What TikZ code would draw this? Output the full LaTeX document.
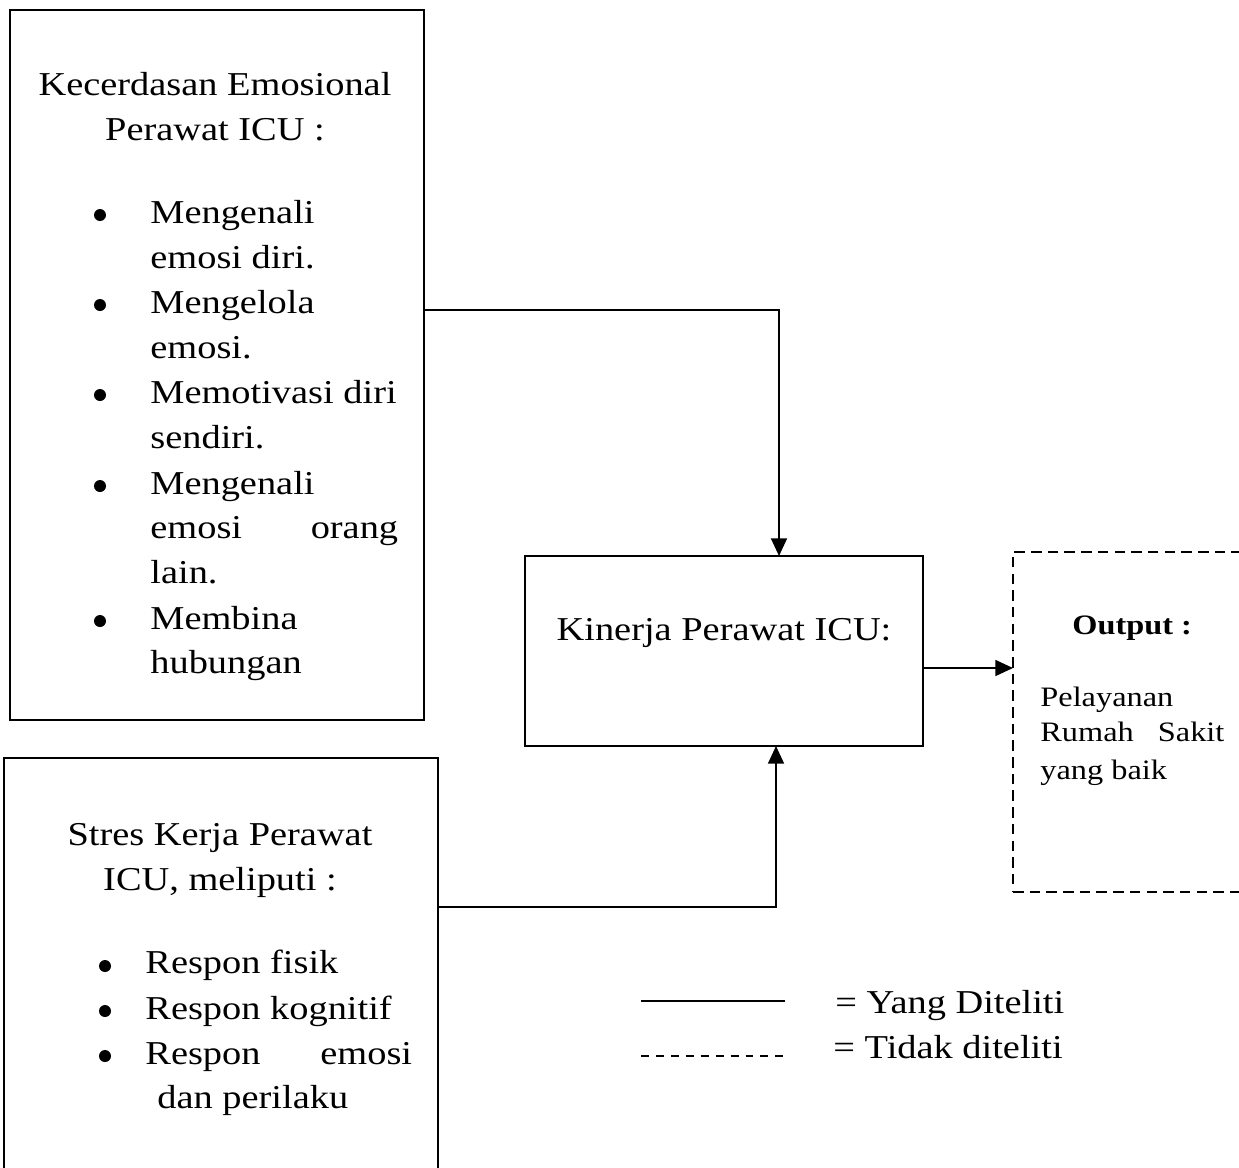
\documentclass[tikz,border=0pt]{standalone}
\usepackage{fontspec}
\setmainfont{Liberation Serif}
\usetikzlibrary{arrows.meta,calc}
\newcommand\fsA{\fontsize{19}{22}\selectfont}
\newcommand\fsB{\fontsize{16}{19}\selectfont}
\begin{document}
\begin{tikzpicture}[x=0.02cm,y=-0.02cm,
  box/.style={draw,line width=1.3pt,outer sep=0pt,inner sep=0pt,anchor=north west},
  dbox/.style={draw,line width=1.1pt,dash pattern=on 6pt off 3.5pt,outer sep=0pt,inner sep=0pt,anchor=north west},
  conn/.style={line width=1.1pt,-{Triangle[width=9pt,length=10pt]}},
  txt/.style={font=\fsA,xscale=1.15,inner sep=0pt,anchor=base west},
  ctxt/.style={font=\fsA,xscale=1.15,inner sep=0pt,anchor=base},
  stxt/.style={font=\fsB,xscale=1.15,inner sep=0pt,anchor=base west},
  bul/.style={circle,fill,inner sep=0pt,minimum size=0.24cm}]
\useasboundingbox (0,0) rectangle (1239,1167);
\clip (0,0) rectangle (1239,1167);
% boxes
\node[box,minimum width=8.28cm,minimum height=14.2cm] (b1) at (10,10) {};
\node[box,minimum width=8.68cm,minimum height=8.84cm] (b2) at (4,758) {};
\node[box,minimum width=7.96cm,minimum height=3.8cm] (b3) at (525,556) {};
\node[dbox,minimum width=5.4cm,minimum height=6.8cm] (b4) at (1013,552) {};
% box 1 text
\node[ctxt] (t1a) at (215,95) {Kecerdasan Emosional};
\node[ctxt] (t1b) at (215,140) {Perawat ICU :};
\node[bul] (u1) at (100,215) {};
\node[txt] (l1) at (150,223) {Mengenali};
\node[txt] (l2) at (150,268) {emosi diri.};
\node[bul] (u2) at (100,305) {};
\node[txt] (l3) at (150,313) {Mengelola};
\node[txt] (l4) at (150,358) {emosi.};
\node[bul] (u3) at (100,395) {};
\node[txt] (l5) at (150,403) {Memotivasi diri};
\node[txt] (l6) at (150,448) {sendiri.};
\node[bul] (u4) at (100,486) {};
\node[txt] (l7) at (150,494) {Mengenali};
\node[txt] (l8) at (150,538) {\makebox[4.31cm][s]{emosi\hfill orang}};
\node[txt] (l9) at (150,583) {lain.};
\node[bul] (u5) at (100,621) {};
\node[txt] (l10) at (150,629) {Membina};
\node[txt] (l11) at (150,673) {hubungan};
% box 2 text
\node[ctxt] (t2a) at (220,845) {Stres Kerja Perawat};
\node[ctxt] (t2b) at (220,890) {ICU, meliputi :};
\node[bul] (v1) at (105,966) {};
\node[txt] (m1) at (145,973) {Respon fisik};
\node[bul] (v2) at (105,1011) {};
\node[txt] (m2) at (145,1019) {Respon kognitif};
\node[bul] (v3) at (105,1056) {};
\node[txt] (m3) at (145,1064) {\makebox[4.64cm][s]{Respon\hfill emosi}};
\node[txt] (m4) at (157,1108) {dan perilaku};
% box 3 text
\node[ctxt] (t3) at (724,640) {Kinerja Perawat ICU:};
% output text
\node[stxt,font=\fsB\bfseries] (o1) at (1072,634) {Output :};
\node[stxt] (o2) at (1040,706) {Pelayanan};
\node[stxt] (o3) at (1040,741) {\makebox[3.2cm][s]{Rumah\hfill Sakit}};
\node[stxt] (o4) at (1040,779) {yang baik};
% connectors
\coordinate (k1) at (779,310);
\draw[conn] (k1 -| b1.east) -- (k1) -- (k1 |- b3.north);
\coordinate (k2) at (776,907);
\draw[conn] (k2 -| b2.east) -- (k2) -- (k2 |- b3.south);
\coordinate (k3) at (0,668);
\draw[conn] (k3 -| b3.east) -- (k3 -| b4.west);
% legend
\coordinate (la1) at (641,1001);
\coordinate (la2) at (785,1001);
\coordinate (lb1) at (641,1056);
\coordinate (lb2) at (785,1056);
\draw[line width=1.1pt] (la1) -- (la2);
\draw[line width=1.1pt,dash pattern=on 4.5pt off 4pt] (lb1) -- (lb2);
\node[txt] (g1) at (835,1013) {= Yang Diteliti};
\node[txt] (g2) at (833,1058) {= Tidak diteliti};
\end{tikzpicture}
\end{document}
